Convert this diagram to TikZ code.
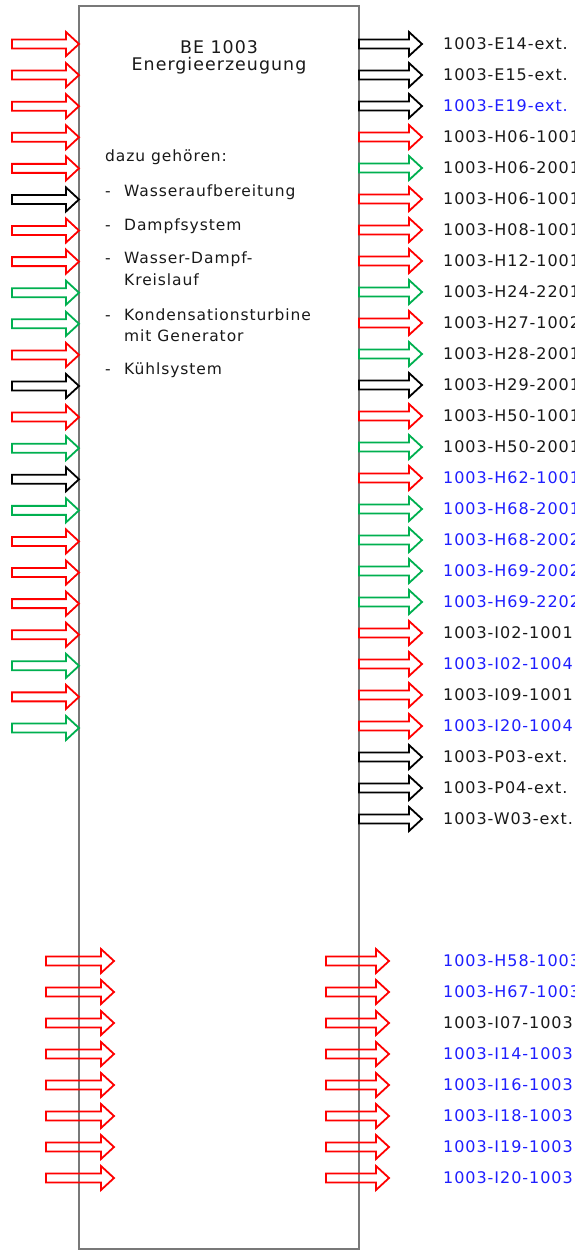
\documentclass[tikz,border=0pt]{standalone}
\usepackage{fontspec}
\setmainfont{DejaVu Sans}[LetterSpace=6]
\definecolor{arR}{RGB}{255,0,0}
\definecolor{arG}{RGB}{0,176,80}
\definecolor{arK}{RGB}{0,0,0}
\definecolor{txB}{RGB}{30,30,255}
\definecolor{txK}{RGB}{25,25,25}
\definecolor{boxgray}{RGB}{120,120,120}
\newcommand\bigarr[5]{% x0, head start, tip, y, colour
  \draw[arrline,draw=#5] ({#1},{#4-4.5}) -- ({#2},{#4-4.5}) -- ({#2},{#4-12}) -- ({#3},{#4})
     -- ({#2},{#4+12}) -- ({#2},{#4+4.5}) -- ({#1},{#4+4.5}) -- cycle;}
\tikzset{
  arrline/.style={line width=1.8pt, line join=miter},
  lbl/.style={anchor=base west, inner sep=0pt, font=\fontsize{16}{18}\selectfont},
  body/.style={anchor=base west, inner sep=0pt, font=\fontsize{15.5}{18}\selectfont, text=txK},
  head/.style={anchor=base, inner sep=0pt, font=\fontsize{17.4}{19}\selectfont, text=txK},
}
\begin{document}
\begin{tikzpicture}[x=1pt,y=-1pt]
\useasboundingbox (0,0) rectangle (575,1250);
\clip (0,0) rectangle (575,1250);
\fill[white] (0,0) rectangle (575,1250);
% main box
\draw[boxgray, line width=1.2pt] (79,6) rectangle (359,1249);
% title
\node[head] (t1) at (219,53) {BE 1003};
\node[head] (t2) at (219,70.5) {Energieerzeugung};
% description
\node[body] (d0) at (105,161.7) {dazu gehören:};
\node[body] (m1) at (105,196.7) {-}; \node[body] (i1) at (124,196.7) {Wasseraufbereitung};
\node[body] (m2) at (105,230) {-}; \node[body] (i2) at (124,230) {Dampfsystem};
\node[body] (m3) at (105,263.3) {-}; \node[body] (i3) at (124,263.3) {Wasser-Dampf-};
\node[body] (i3b) at (124,285.7) {Kreislauf};
\node[body] (m4) at (105,320) {-}; \node[body] (i4) at (124,320) {Kondensationsturbine};
\node[body] (i4b) at (124,341.7) {mit Generator};
\node[body] (m5) at (105,374.3) {-}; \node[body] (i5) at (124,374.3) {Kühlsystem};
% left incoming arrows
\foreach \c [count=\i from 0] in {arR,arR,arR,arR,arR,arK,arR,arR,arG,arG,arR,arK,arR,arG,arK,arG,arR,arR,arR,arR,arG,arR,arG}{
  \pgfmathsetmacro\yy{44+31.09*\i}
  \bigarr{12}{66}{79}{\yy}{\c}
}
% right outgoing arrows with labels
\foreach \c/\t/\tc [count=\i from 0] in {
  arK/1003-E14-ext./txK, arK/1003-E15-ext./txK, arK/1003-E19-ext./txB,
  arR/1003-H06-1001/txK, arG/1003-H06-2001/txK, arR/1003-H06-1001/txK,
  arR/1003-H08-1001/txK, arR/1003-H12-1001/txK, arG/1003-H24-2201/txK,
  arR/1003-H27-1002/txK, arG/1003-H28-2001/txK, arK/1003-H29-2001/txK,
  arR/1003-H50-1001/txK, arG/1003-H50-2001/txK, arR/1003-H62-1001/txB,
  arG/1003-H68-2001/txB, arG/1003-H68-2002/txB, arG/1003-H69-2002/txB,
  arG/1003-H69-2202/txB, arR/1003-I02-1001/txK, arR/1003-I02-1004/txB,
  arR/1003-I09-1001/txK, arR/1003-I20-1004/txB, arK/1003-P03-ext./txK,
  arK/1003-P04-ext./txK, arK/1003-W03-ext./txK}{
  \pgfmathsetmacro\yy{44+31*\i}
  \bigarr{359}{409}{422}{\yy}{\c}
  \node[lbl, text=\tc] (r\i) at (443,\yy+5.7) {\t};
}
% bottom arrows
\foreach \t/\tc [count=\i from 0] in {
  1003-H58-1003/txB, 1003-H67-1003/txB, 1003-I07-1003/txK, 1003-I14-1003/txB,
  1003-I16-1003/txB, 1003-I18-1003/txB, 1003-I19-1003/txB, 1003-I20-1003/txB}{
  \pgfmathsetmacro\yy{961+31*\i}
  \bigarr{46}{101}{114}{\yy}{arR}
  \bigarr{326}{376}{389}{\yy}{arR}
  \node[lbl, text=\tc] (b\i) at (443,\yy+5.7) {\t};
}
\end{tikzpicture}
\end{document}
